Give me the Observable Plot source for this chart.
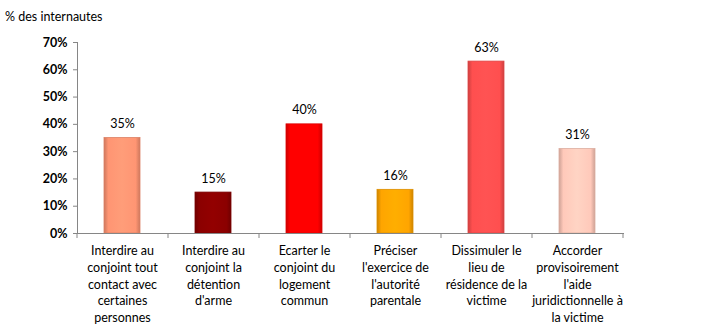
<!DOCTYPE html>
<html>
<head>
<meta charset="utf-8">
<script src="https://cdn.jsdelivr.net/npm/d3@7"></script>
<script src="https://cdn.jsdelivr.net/npm/@observablehq/plot@0.6"></script>
<style>
  body { margin: 0; background: #fff; font-family: Lato, "Open Sans", sans-serif; }
  #title { height: 30px; box-sizing: border-box; padding: 10px 0 0 5px; font-size: 12.5px; color: #000; line-height: 14px; }
</style>
</head>
<body>
<div id="title">% des internautes</div>
<div id="chart"></div>
<script>
const categories = [
  "Interdire au\nconjoint tout\ncontact avec\ncertaines\npersonnes",
  "Interdire au\nconjoint la\ndétention\nd'arme",
  "Ecarter le\nconjoint du\nlogement\ncommun",
  "Préciser\nl'exercice de\nl'autorité\nparentale",
  "Dissimuler le\nlieu de\nrésidence de la\nvictime",
  "Accorder\nprovisoirement\nl'aide\njuridictionnelle à\nla victime"
];
const values = [35, 15, 40, 16, 63, 31];
const colors = ["#FF9573", "#8B0000", "#FF0000", "#FFA500", "#FF4F4F", "#FFC9BA"];
const yTicks = [0, 10, 20, 30, 40, 50, 60, 70];

const data = categories.map((c, i) => ({cat: c, value: values[i], color: colors[i], id: "g" + i}));

const W = 703, H = 300, ML = 77, MR = 80, MT = 12, MB = 97;
const step = (W - ML - MR) / categories.length;

function darker(c, k) { return d3.color(c).darker(k).formatHex(); }
function brighter(c, k) { return d3.color(c).brighter(k).formatHex(); }

const defsMark = () => {
  const ns = "http://www.w3.org/2000/svg";
  const defs = document.createElementNS(ns, "defs");
  data.forEach(d => {
    const g = document.createElementNS(ns, "linearGradient");
    g.setAttribute("id", d.id);
    g.setAttribute("x1", "0"); g.setAttribute("x2", "1");
    g.setAttribute("y1", "0"); g.setAttribute("y2", "0");
    [[0, darker(d.color, 0.6)], [0.12, d.color], [0.5, brighter(d.color, 0.15)], [0.88, d.color], [1, darker(d.color, 0.6)]].forEach(([o, c]) => {
      const s = document.createElementNS(ns, "stop");
      s.setAttribute("offset", o);
      s.setAttribute("stop-color", c);
      g.appendChild(s);
    });
    defs.appendChild(g);
  });
  return defs;
};

const chart = Plot.plot({
  width: W,
  height: H,
  marginLeft: ML,
  marginRight: MR,
  marginTop: MT,
  marginBottom: MB,
  style: {fontFamily: "Lato, 'Open Sans', sans-serif", fontSize: "12.5px", color: "#000", background: "#fff"},
  x: {domain: categories, paddingInner: 0.6, paddingOuter: 0.3, label: null},
  y: {domain: [0, 70], label: null},
  color: {domain: data.map(d => d.id), range: data.map(d => `url(#${d.id})`)},
  marks: [
    defsMark,
    Plot.barY(data, {x: "cat", y: "value", fill: "id", stroke: d => darker(d.color, 0.4), strokeWidth: 0.8}),
    Plot.text(data, {x: "cat", y: "value", text: d => d.value + "%", dy: -14, fontSize: 12.5, fill: "#000"}),
    Plot.ruleX(data, {x: "cat", dx: -step / 2, y1: 0, y2: 0, insetBottom: -5, stroke: "#868686"}),
    Plot.ruleX([categories[categories.length - 1]], {x: d => d, dx: step / 2, y1: 0, y2: 0, insetBottom: -5, stroke: "#868686"}),
    Plot.frame({anchor: "left", stroke: "#868686"}),
    Plot.frame({anchor: "bottom", stroke: "#868686"}),
    Plot.axisY({ticks: yTicks, tickFormat: d => d + "%", tickSize: 4, tickPadding: 6, fontWeight: "bold", fontSize: 12.5, stroke: "#868686", fill: "#000"}),
    Plot.axisX({tickSize: 0, tickPadding: 10, lineHeight: 1.33, fontSize: 12.5, fill: "#000"})
  ]
});
document.getElementById("chart").appendChild(chart);
</script>
</body>
</html>
